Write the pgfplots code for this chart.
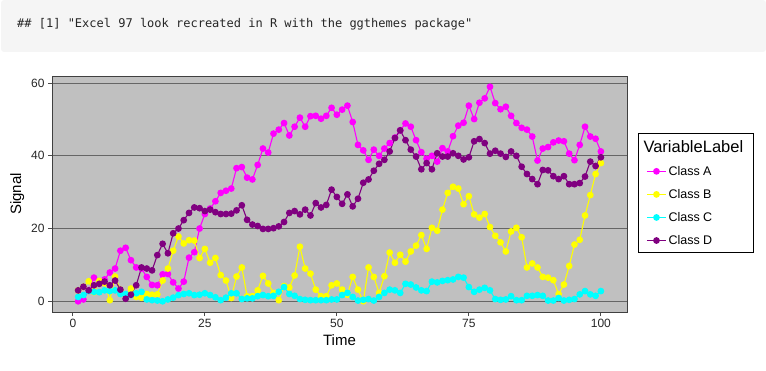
\documentclass[border=0pt]{standalone}
\usepackage{pgfplots}
\pgfplotsset{compat=1.18}
\usepackage{pgfplotstable}
\usepackage{fontspec}
\setmainfont{Liberation Sans}
\newfontfamily\codefont{DejaVu Sans Mono}
\definecolor{panelgray}{HTML}{C0C0C0}
\definecolor{headergray}{HTML}{F5F5F5}
\definecolor{cA}{HTML}{FF00FF}
\definecolor{cB}{HTML}{FFFF00}
\definecolor{cC}{HTML}{00FFFF}
\definecolor{cD}{HTML}{800080}

\pgfplotstableread{
t A B C D
1 0 3 1.2 3
2 0.5 4 1.7 4
3 3 5.5 2.8 3
4 6.5 2.5 2.6 4.4
5 5.4 5.6 2.5 4.8
6 6 5 3 5.4
7 7.9 0.3 2.8 4.4
8 9 6.8 3 5.7
9 13.9 3.2 2 3.2
10 14.7 1.5 2 0.7
11 11.3 3.5 1.7 1.8
12 9.3 1.2 2.2 4.4
13 9 1 2.6 9.3
14 6.7 2 0.5 9
15 4.5 1.8 0.3 8.5
16 4.4 1.9 0.2 12.7
17 7.4 5.7 0 15.8
18 7.5 9 0.5 13.2
19 5.2 13.9 1 18.7
20 3.5 17.8 1.7 20
21 5.4 15.9 2 22.3
22 12 16.8 2.2 24.3
23 13.5 16.7 1.7 25.8
24 20 11.9 1.8 25.6
25 24 14.4 2.2 24.8
26 25.5 10.6 1.7 25.2
27 27.5 11.9 1.1 24.5
28 29.8 7.2 0.3 24
29 30.4 5.7 1 24
30 31 0.9 2.2 24.1
31 36.6 6.8 2.2 25
32 36.9 9.3 0.6 26.4
33 34 1.4 0.8 22.4
34 33.5 1.4 0.8 21.1
35 37.5 3 1.4 20.7
36 42 7 1.7 19.9
37 40.9 4.9 1.4 19.9
38 46.1 2.3 1.5 20.1
39 47.2 0.3 2.6 20.6
40 49 4.2 3.9 21.8
41 45.6 3.8 2 24.3
42 48 7.1 1.5 24.8
43 50.5 15 0.6 23.9
44 48 9 0.4 25.2
45 50.9 7.6 0.3 23.6
46 51 3.2 0.3 27
47 50.2 1.4 0.3 25.8
48 51 1.4 0.3 26.5
49 53.2 4.4 0.5 30.7
50 51.3 4.9 0.5 28.7
51 52.7 3.2 1.7 26.8
52 53.8 1.8 2.3 29.4
53 49.3 6.7 1.2 26.1
54 43 3.2 0.2 28.2
55 41.5 0 0.4 32.6
56 38.9 9.3 0.6 33.5
57 41.7 6.7 0.2 35.9
58 40 2.3 1.2 37.8
59 42 6.9 2.3 38.9
60 43.5 13.4 3.2 41.2
61 45 10.6 3 44.9
62 47 12.8 2.3 47
63 48.9 10.9 4.8 44.3
64 48 13.7 4.6 41.7
65 44.3 15.3 3.8 39.8
66 41 18.2 3 36.3
67 39.2 14.4 2.8 38
68 40 20.2 5.4 36.3
69 38.4 19.4 5.2 40.7
70 42.1 25.2 5.6 39.8
71 41.2 29.8 5.8 39.8
72 45.4 31.5 6 40.7
73 48.3 31 6.7 40
74 49.1 26.7 6.5 39
75 53.8 28.9 3.9 39.6
76 50.1 23.9 2.6 44
77 54.6 23 3.2 44.6
78 55.8 24 3.7 43.5
79 59 20.4 3 40.6
80 54.5 18 0.6 41.4
81 52.8 16.2 0.4 40.6
82 53.5 13.7 0.5 39.7
83 51 19.2 1.4 41.2
84 49 20.2 0.3 40
85 47.7 17.6 0.3 37
86 47.2 9.3 1.5 35
87 45.3 10.4 1.5 33.6
88 38.7 9.3 1.7 32.2
89 42 6.7 1.5 36.1
90 42.4 6.5 0.2 36
91 43.7 5.8 0.2 34.4
92 44.2 2 0.9 33.6
93 44 4.6 0.2 34.4
94 40.6 9.7 0.4 32.2
95 38.8 15.6 0.6 32.2
96 43 16.9 1.9 32.5
97 48 23.6 2.8 34.3
98 45.3 29.2 1.9 38.4
99 44.7 35 1.5 37.2
100 41.2 38 2.8 39.6
}\data

\begin{document}
\begin{tikzpicture}
\path[use as bounding box] (0pt,0pt) rectangle (766pt,370pt);
\fill[headergray, rounded corners=3pt] (1pt,318pt) rectangle (766pt,370pt);
\node[anchor=west, inner sep=0pt, font=\codefont\fontsize{12}{14}\selectfont, text=black!85] at (17pt,346pt) {\#\# [1] "Excel 97 look recreated in R with the ggthemes package"};
\begin{axis}[
  at={(52pt,58pt)}, anchor=south west, scale only axis,
  width=575pt, height=236pt,
  xmin=-3.95, xmax=104.95, ymin=-2.95, ymax=61.95,
  xtick={0,25,50,75,100}, ytick={0,20,40,60},
  axis background/.style={fill=panelgray},
  axis line style={draw=black!75, line width=1pt},
  ymajorgrids, grid style={draw=black!60, line width=0.9pt},
  tick align=outside, xtick pos=left, ytick pos=left, major tick length=4pt,
  tick style={draw=black!70, line width=0.8pt},
  ticklabel style={font=\fontsize{12}{14}\selectfont, text=black!85},
  /pgf/number format/assume math mode=true,
  xlabel={Time}, ylabel={Signal},
  label style={font=\fontsize{15}{18}\selectfont},
  legend cell align=left,
  legend style={at={(1.019,0.758)}, anchor=north west, draw=black, line width=1pt,
    fill=white, font=\fontsize{12.5}{15}\selectfont, row sep=8.5pt,
    inner xsep=8pt, inner ysep=4.5pt,
    /tikz/every even column/.append style={column sep=1pt}},
  legend image code/.code={\draw[mark repeat=2,mark phase=2,#1] plot coordinates {(0pt,0pt) (9.5pt,0pt) (19pt,0pt)};},
  every axis plot/.append style={line width=1.1pt, mark=*, mark size=2.8pt, mark options={solid}},
]
\addlegendimage{empty legend}
\addlegendentry{\hspace*{-25pt}\fontsize{16.5}{19}\selectfont VariableLabel}
\addplot[color=cA] table[x=t,y=A] {\data};
\addlegendentry{Class A}
\addplot[color=cB] table[x=t,y=B] {\data};
\addlegendentry{Class B}
\addplot[color=cC] table[x=t,y=C] {\data};
\addlegendentry{Class C}
\addplot[color=cD] table[x=t,y=D] {\data};
\addlegendentry{Class D\rule[-6pt]{0pt}{6pt}}
\end{axis}
\end{tikzpicture}
\end{document}
